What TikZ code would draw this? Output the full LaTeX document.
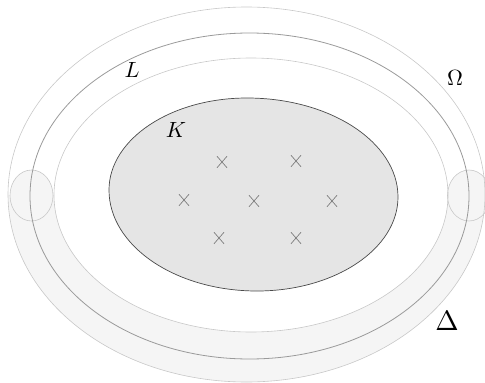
\documentclass[tikz,border=0pt]{standalone}
\usetikzlibrary{shapes.misc}
\definecolor{thinline}{HTML}{C8C8C8}
\definecolor{lline}{HTML}{9A9A9A}
\definecolor{bandfill}{HTML}{F5F5F5}
\definecolor{kfill}{HTML}{E5E5E5}
\definecolor{kline}{HTML}{4A4A4A}
\definecolor{crossc}{HTML}{707070}
\begin{document}
\begin{tikzpicture}[x=1pt,y=-1pt,
  thin gray/.style={draw=thinline, line width=0.6pt},
  lcurve/.style={draw=lline, line width=0.8pt},
  mark x/.style={cross out, draw=crossc, line width=0.6pt, minimum width=9.5pt, minimum height=11pt, inner sep=0pt},
  lbl/.style={scale=2.2, inner sep=0pt},
  bigl/.style={scale=2.8, inner sep=0pt}]
\useasboundingbox (0,0) rectangle (485,383);
% band Delta (lower half of the annulus)
\begin{scope}
  \clip (0,195) rectangle (485,383);
  \fill[bandfill, even odd rule]
    (246.5,194.5) ellipse [x radius=238.5pt, y radius=187.5pt]
    (251,195) ellipse [x radius=197pt, y radius=137pt];
\end{scope}
% tube cross-sections
\draw[thin gray, fill=bandfill] (31.5,195.5) ellipse [x radius=21.5pt, y radius=25.5pt];
\draw[thin gray, fill=bandfill] (469,195.5) ellipse [x radius=21.5pt, y radius=25.5pt];
% curves
\draw[thin gray] (246.5,194.5) ellipse [x radius=238.5pt, y radius=187.5pt];
\draw[thin gray] (251,195) ellipse [x radius=197pt, y radius=137pt];
\draw[lcurve] (249.5,196) ellipse [x radius=219.5pt, y radius=163pt];
% K
\draw[draw=kline, fill=kfill, line width=0.7pt]
  (109,190) .. controls (109,139.2) and (170.8,98) .. (247,98)
  .. controls (330.4,98) and (398,142.4) .. (398,197)
  .. controls (398,248.9) and (334.8,291) .. (257,291)
  .. controls (175.3,291) and (109,245.8) .. cycle;
% marks
\node[mark x] (m1) at (222,162) {};
\node[mark x] (m2) at (296,161) {};
\node[mark x] (m3) at (184,200) {};
\node[mark x] (m4) at (254,201) {};
\node[mark x] (m5) at (332,201) {};
\node[mark x] (m6) at (219,238) {};
\node[mark x] (m7) at (296,238) {};
% labels
\node[lbl] (L) at (132,70) {$L$};
\node[lbl] (K) at (176,130) {$K$};
\node[lbl] (O) at (455,78) {$\Omega$};
\node[bigl] (D) at (447,321) {$\Delta$};
\end{tikzpicture}
\end{document}
